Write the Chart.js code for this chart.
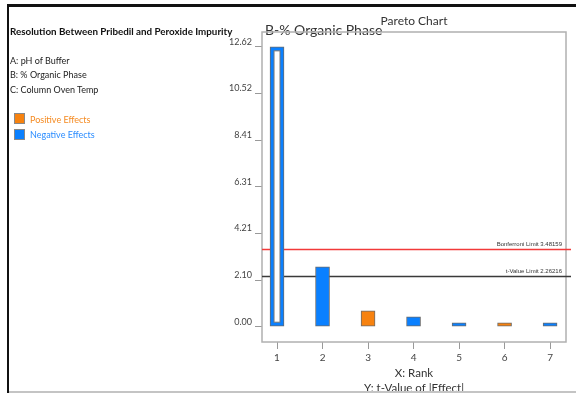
<!DOCTYPE html>
<html>
<head>
<meta charset="utf-8">
<script src="https://cdn.jsdelivr.net/npm/chart.js@4.4.1/dist/chart.umd.min.js"></script>
<style>
  html, body { margin: 0; padding: 0; background: #fff; }
  #wrap { position: relative; width: 576px; height: 393px; overflow: hidden; font-family: "Lato", "Open Sans", sans-serif; }
  #chart { position: absolute; left: 0; top: 0; }
  .rule { position: absolute; }
  .side { position: absolute; left: 10px; font-size: 9px; line-height: 12px; color: #222; white-space: nowrap; }
  .side.head { font-weight: bold; color: #111; font-size: 9.8px; }
  .swatch { position: absolute; left: 14px; width: 11px; height: 11px; border: 1px solid #888; box-sizing: border-box; }
  .key { position: absolute; left: 30px; font-size: 9px; line-height: 12px; white-space: nowrap; }
</style>
</head>
<body>
<div id="wrap">
  <canvas id="chart" width="576" height="393"></canvas>

  <!-- page frame -->
  <div class="rule" style="left:7px; top:4px; width:569px; height:2.7px; background:#111;"></div>
  <div class="rule" style="left:7.3px; top:4px; width:2px; height:389px; background:#111;"></div>
  <div class="rule" style="left:9px; top:391px; width:567px; height:1.5px; background:#c4c4c4;"></div>

  <!-- response and factor panel -->
  <div class="side head" style="top:25px;">Resolution Between Pribedil and Peroxide Impurity</div>
  <div class="side" style="top:54.5px;">A: pH of Buffer</div>
  <div class="side" style="top:69px;">B: % Organic Phase</div>
  <div class="side" style="top:84px;">C: Column Oven Temp</div>

  <div class="swatch" style="top:113px; background:#f7820f;"></div>
  <div class="key" style="top:113.5px; color:#f58b22;">Positive Effects</div>
  <div class="swatch" style="top:129px; background:#0a80ff;"></div>
  <div class="key" style="top:129px; color:#2a8cff;">Negative Effects</div>
</div>

<script>
// Ranked standardized effects
const ranks = [1, 2, 3, 4, 5, 6, 7];
const tValues = [12.62, 2.70, 0.72, 0.45, 0.17, 0.17, 0.17];
const effectSigns = ['neg', 'neg', 'pos', 'neg', 'neg', 'pos', 'neg'];
const yTickValues = [0.00, 2.10, 4.21, 6.31, 8.41, 10.52, 12.62];
const bonferroniLimit = 3.48159;
const tValueLimit = 2.26216;
const topTermLabel = 'B-% Organic Phase';
const highlightedIndex = 0;

const effectColors = { pos: '#f7820f', neg: '#0a80ff' };

// Plot frame, limit lines and the label for the leading term
const decorations = {
  id: 'decorations',
  beforeDatasetsDraw(chart) {
    const { ctx, chartArea: a, scales } = chart;
    const bar = chart.getDatasetMeta(0).data[highlightedIndex];
    ctx.save();

    // leading term name above its bar
    ctx.font = '14px Lato, "Open Sans", sans-serif';
    ctx.fillStyle = '#333';
    ctx.textAlign = 'left';
    ctx.textBaseline = 'middle';
    ctx.fillText(topTermLabel, bar.x - bar.width / 2 - 5, bar.y - 16.5);

    // frame around the plot area
    ctx.strokeStyle = '#b0b0b0';
    ctx.lineWidth = 1.5;
    ctx.strokeRect(a.left, a.top, a.right - a.left, a.bottom - a.top);

    // limit lines with their captions
    const limits = [
      { value: bonferroniLimit, color: '#f23a3a', text: 'Bonferroni Limit ' + bonferroniLimit },
      { value: tValueLimit, color: '#3a3a3a', text: 't-Value Limit ' + tValueLimit }
    ];
    limits.forEach(l => {
      const y = scales.y.getPixelForValue(l.value);
      ctx.strokeStyle = l.color;
      ctx.lineWidth = 1.6;
      ctx.beginPath();
      ctx.moveTo(a.left, y);
      ctx.lineTo(a.right + 5, y);
      ctx.stroke();
      ctx.font = '6px "Liberation Sans Narrow", "Liberation Sans", sans-serif';
      ctx.fillStyle = '#333';
      ctx.textAlign = 'right';
      ctx.textBaseline = 'middle';
      ctx.fillText(l.text, a.right - 4, y - 5);
    });
    ctx.restore();
  },
  afterDatasetsDraw(chart) {
    // hollow centre of the highlighted bar
    const { ctx } = chart;
    const bar = chart.getDatasetMeta(0).data[highlightedIndex];
    const inset = 4;
    const left = bar.x - bar.width / 2 + inset;
    const top = bar.y + inset;
    const w = bar.width - 2 * inset;
    const h = bar.base - bar.y - 2 * inset;
    ctx.save();
    ctx.fillStyle = '#fff';
    ctx.fillRect(left, top, w, h);
    ctx.strokeStyle = '#777';
    ctx.lineWidth = 1;
    ctx.strokeRect(left, top, w, h);
    ctx.restore();
  }
};

new Chart(document.getElementById('chart'), {
  type: 'bar',
  data: {
    datasets: [{
      data: ranks.map((r, i) => ({ x: r, y: tValues[i] })),
      backgroundColor: effectSigns.map(s => effectColors[s]),
      borderColor: '#6b6b6b',
      borderWidth: 1,
      borderSkipped: false,
      barThickness: 14
    }]
  },
  options: {
    responsive: false,
    animation: false,
    devicePixelRatio: 1,
    layout: { padding: { left: 0, right: 10, top: 0, bottom: 0 } },
    plugins: {
      legend: { display: false },
      tooltip: { enabled: false },
      title: {
        display: true,
        text: 'Pareto Chart',
        fullSize: false,
        color: '#333',
        font: { family: 'Lato', size: 12, weight: 'normal', lineHeight: 1.2 },
        padding: { top: 14, bottom: 3.6 }
      }
    },
    scales: {
      x: {
        type: 'linear',
        offset: false,
        min: 0.67,
        max: 7.35,
        afterBuildTicks: s => { s.ticks = ranks.map(v => ({ value: v })); },
        afterFit: s => { s.height = 51; },
        ticks: {
          callback: v => String(v),
          color: '#444',
          font: { family: 'Lato', size: 10 },
          padding: 3,
          maxRotation: 0,
          autoSkip: false
        },
        grid: { offset: false, drawOnChartArea: false, drawTicks: true, tickLength: 7, color: '#999' },
        border: { display: false },
        title: {
          display: true,
          text: ['X: Rank', 'Y: t-Value of |Effect|'],
          color: '#333',
          font: { family: 'Lato', size: 11.5, lineHeight: '15px' },
          padding: { top: 0, bottom: -2.5 }
        }
      },
      y: {
        min: -0.69,
        max: 13.29,
        afterBuildTicks: s => { s.ticks = yTickValues.map(v => ({ value: v })); },
        afterFit: s => { s.width = 262; },
        ticks: {
          callback: v => v.toFixed(2),
          color: '#444',
          font: { family: 'Lato', size: 9 },
          padding: 3,
          labelOffset: -5,
          autoSkip: false
        },
        grid: { drawOnChartArea: false, drawTicks: true, tickLength: 7, color: '#999' },
        border: { display: false }
      }
    }
  },
  plugins: [decorations]
});
</script>
</body>
</html>
